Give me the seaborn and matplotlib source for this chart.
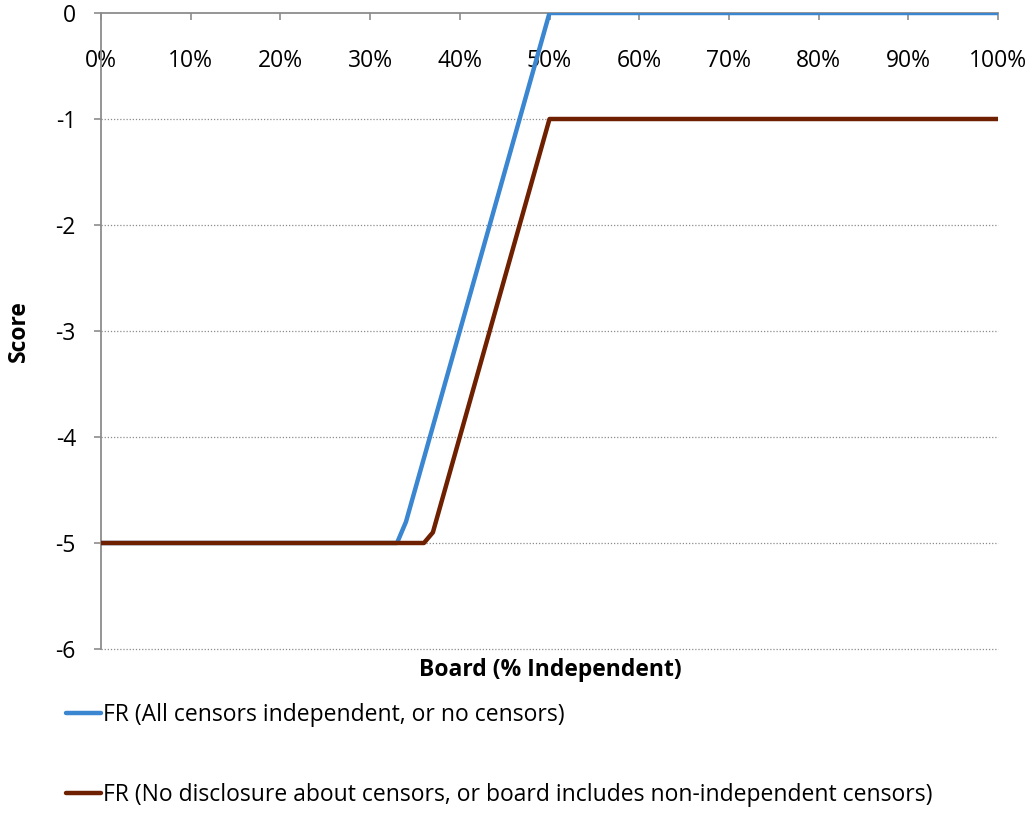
import numpy as np
import pandas as pd
import matplotlib
matplotlib.use("Agg")
import matplotlib.pyplot as plt
import seaborn as sns
from matplotlib.ticker import FuncFormatter

# Score curves versus board independence (percent)
x_all_indep = [0, 33, 34, 50, 100]
y_all_indep = [-5, -5, -4.8, 0, 0]
x_no_disc = [0, 36, 37, 50, 100]
y_no_disc = [-5, -5, -4.9, -1, -1]

series_names = [
    "FR (All censors independent, or no censors)",
    "FR (No disclosure about censors, or board includes non-independent censors)",
]
x_ticks = list(range(0, 101, 10))
y_ticks = [0, -1, -2, -3, -4, -5, -6]

df = pd.concat([
    pd.DataFrame({"board": x_all_indep, "score": y_all_indep, "series": series_names[0]}),
    pd.DataFrame({"board": x_no_disc, "score": y_no_disc, "series": series_names[1]}),
])

sns.set_theme(style="white")
plt.rcParams["font.family"] = ["Open Sans", "DejaVu Sans"]
plt.rcParams["axes.unicode_minus"] = False
plt.rcParams["text.color"] = "black"

FS = 16.5
W, H = 1026, 814
fig = plt.figure(figsize=(W / 100, H / 100), dpi=100)
ax = fig.add_axes([101 / W, 1 - 649 / H, (998 - 101) / W, (649 - 13) / H])

palette = {series_names[0]: "#3A86D1", series_names[1]: "#6E2000"}
sns.lineplot(data=df, x="board", y="score", hue="series", palette=palette,
             linewidth=3.2, ax=ax, legend=False, sort=False, zorder=3)

ax.set_xlim(0, 100)
ax.set_ylim(-6, 0)
ax.set_yticks(y_ticks)
ax.set_xticks(x_ticks)
ax.xaxis.set_major_formatter(FuncFormatter(lambda v, p: f"{int(v)}%"))

# Horizontal dotted gridlines
for yv in y_ticks[1:]:
    ax.axhline(yv, color="#8c8c8c", linestyle=(0, (1, 1.5)), linewidth=0.9,
               zorder=1, clip_on=False)

for s in ["right", "bottom"]:
    ax.spines[s].set_visible(False)
for s in ["top", "left"]:
    ax.spines[s].set_color("#8c8c8c")
    ax.spines[s].set_linewidth(1.3)

ax.xaxis.tick_top()
ax.tick_params(axis="x", which="major", top=True, bottom=False, labeltop=True,
               labelbottom=False, direction="in", length=5, width=1.2,
               color="#8c8c8c", pad=-43, labelsize=FS, labelcolor="black")
ax.tick_params(axis="y", which="major", left=True, direction="out", length=5,
               width=1.2, color="#8c8c8c", pad=13, labelsize=FS, labelcolor="black")

ax.set_xlabel("")
ax.set_ylabel("Score", fontsize=FS, fontweight="bold", labelpad=18, color="black")
fig.text(550 / W, 1 - 670 / H, "Board (% Independent)", ha="center", va="center",
         fontsize=FS, fontweight="bold")

handles = [plt.Line2D([], [], color=palette[n], linewidth=3.2, solid_capstyle="round")
           for n in series_names]
fig.legend(handles, series_names, loc="upper left",
           bbox_to_anchor=(57 / W, 1 - 694 / H), frameon=False, fontsize=FS,
           handlelength=1.5, handletextpad=0.12, labelspacing=2.45, borderaxespad=0)

fig.savefig("out.png", dpi=100, facecolor="white")
